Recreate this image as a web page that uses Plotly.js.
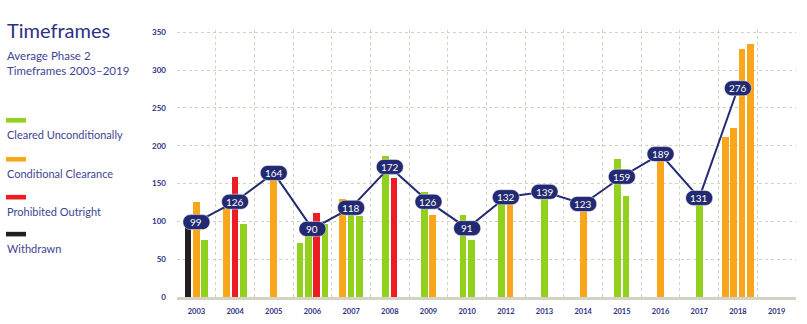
<!DOCTYPE html>
<html>
<head>
<meta charset="utf-8">
<script src="https://cdn.plot.ly/plotly-3.0.1.min.js"></script>
<style>html,body{margin:0;padding:0;background:#fff;}#chart{width:807px;height:324px;}</style>
</head>
<body>
<div id="chart"></div>
<script>
// ---- data ----
const years = ['2003','2004','2005','2006','2007','2008','2009','2010','2012','2013','2014','2015','2016','2017','2018','2019'];
const averageDays = [99,126,164,90,118,172,126,91,132,139,123,159,189,131,276,null];

const outcomes = ['Cleared Unconditionally','Conditional Clearance','Prohibited Outright','Withdrawn'];

const barYear = ['2003','2003','2003','2004','2004','2004','2005','2006','2006','2006','2006','2007','2007','2007','2008','2008','2009','2009','2010','2010','2012','2012','2013','2014','2015','2015','2016','2017','2018','2018','2018','2018'];
const barOutcome = ['Withdrawn','Conditional Clearance','Cleared Unconditionally',
  'Conditional Clearance','Prohibited Outright','Cleared Unconditionally',
  'Conditional Clearance',
  'Cleared Unconditionally','Cleared Unconditionally','Prohibited Outright','Cleared Unconditionally',
  'Conditional Clearance','Cleared Unconditionally','Cleared Unconditionally',
  'Cleared Unconditionally','Prohibited Outright',
  'Cleared Unconditionally','Conditional Clearance',
  'Cleared Unconditionally','Cleared Unconditionally',
  'Cleared Unconditionally','Conditional Clearance',
  'Cleared Unconditionally',
  'Conditional Clearance',
  'Cleared Unconditionally','Cleared Unconditionally',
  'Conditional Clearance',
  'Cleared Unconditionally',
  'Conditional Clearance','Conditional Clearance','Conditional Clearance','Conditional Clearance'];
const barDays = [97,125,75, 122,158,97, 164, 72,82,111,97, 130,117,107, 187,157, 139,109, 108,75, 133,131, 139, 123, 183,133, 189, 131, 212,224,328,334];

// ---- styles ----
const colors = {
  'Cleared Unconditionally':'#92d01e',
  'Conditional Clearance':'#f9a61c',
  'Prohibited Outright':'#ed1c24',
  'Withdrawn':'#231f20'
};
const navy = '#232a72';
const textNavy = '#2d3184';
const textBlue = '#3e4494';
const gridCol = '#d3d1c0';
const BAR_W = 0.173, BAR_PITCH = 0.215;

// bar positions: each year's bars are centred on its category
const counts = {}, seen = {};
barYear.forEach(y => counts[y] = (counts[y]||0)+1);
const barX = barYear.map(y => {
  const i = seen[y] || 0; seen[y] = i+1;
  return years.indexOf(y) + (i - (counts[y]-1)/2) * BAR_PITCH;
});

const traces = outcomes.map(o => {
  const xs=[], ys=[];
  barOutcome.forEach((b,k)=>{ if(b===o){ xs.push(barX[k]); ys.push(barDays[k]); } });
  return {type:'bar', x:xs, y:ys, width:BAR_W, name:o, marker:{color:colors[o], line:{width:0}}, showlegend:false, hoverinfo:'skip'};
});

const lineX = [], lineY = [];
averageDays.forEach((v,i)=>{ if(v!==null){ lineX.push(i); lineY.push(v); } });
traces.push({type:'scatter', mode:'lines', x:lineX, y:lineY, line:{color:navy, width:2}, showlegend:false, hoverinfo:'skip'});

// ---- pills ----
const pill = 'M -6,-7.5 L 6,-7.5 C 10.14,-7.5 13.5,-4.14 13.5,0 C 13.5,4.14 10.14,7.5 6,7.5 L -6,7.5 C -10.14,7.5 -13.5,4.14 -13.5,0 C -13.5,-4.14 -10.14,-7.5 -6,-7.5 Z';
const shapes = [], annotations = [];
lineX.forEach((x,k)=>{
  shapes.push({type:'path', layer:'above', xref:'x', yref:'y', xsizemode:'pixel', ysizemode:'pixel',
    xanchor:x, yanchor:lineY[k], path:pill, fillcolor:navy, line:{color:'rgba(255,255,255,0.6)', width:0.8}});
  annotations.push({xref:'x', yref:'y', x:x, y:lineY[k], text:String(lineY[k]), showarrow:false,
    font:{family:'Lato', size:10, color:'#ffffff'}, xanchor:'center', yanchor:'middle'});
});

// ---- left panel (title + legend) ----
const L = 177, T = 30, PW = 807-177-11, PH = 324-30-26.5;
const px = v => (v - L)/PW;
const py = v => (T + PH - v)/PH;

annotations.push({xref:'paper', yref:'paper', x:px(5), y:py(29.5), xanchor:'left', yanchor:'middle', showarrow:false,
  text:'Timeframes', font:{family:'Lato', size:20, color:textNavy}});
annotations.push({xref:'paper', yref:'paper', x:px(5), y:py(63), xanchor:'left', yanchor:'middle', showarrow:false, align:'left',
  text:'Average Phase 2<br>Timeframes 2003–2019', font:{family:'Lato', size:11.5, color:textBlue}});

const legendRows = [120.5, 159.5, 197.5, 234.5];
outcomes.forEach((o,i)=>{
  const sy = legendRows[i];
  shapes.push({type:'rect', xref:'paper', yref:'paper', x0:px(6), x1:px(26), y0:py(sy-2.3), y1:py(sy+2.3),
    fillcolor:colors[o], line:{width:0}});
  annotations.push({xref:'paper', yref:'paper', x:px(5), y:py(sy+14.5), xanchor:'left', yanchor:'middle', showarrow:false,
    text:o, font:{family:'Lato', size:11, color:textBlue}});
});

const minorVals = [];
for (let i=0;i<=years.length;i++) minorVals.push(i-0.5);

const layout = {
  width:807, height:324,
  margin:{l:L, r:11, t:T, b:26.5, pad:0},
  paper_bgcolor:'#ffffff', plot_bgcolor:'#ffffff',
  bargap:0,
  xaxis:{type:'linear', range:[-0.502, years.length-0.498], tickmode:'array',
    tickvals:years.map((y,i)=>i), ticktext:years, showgrid:false, zeroline:false,
    ticks:'', ticklabelstandoff:5,
    tickfont:{family:'Lato', size:7.5, color:textNavy, weight:'bold'},
    showline:true, linecolor:'#d4d2c2', linewidth:3,
    minor:{tickmode:'array', tickvals:minorVals, showgrid:true, gridcolor:gridCol, griddash:'dot', gridwidth:1, ticks:''}},
  yaxis:{range:[0,353], tickmode:'array', tickvals:[0,50,100,150,200,250,300,350],
    showgrid:true, gridcolor:gridCol, griddash:'dot', gridwidth:1, zeroline:false, showline:false,
    ticks:'', ticklabelstandoff:10,
    tickfont:{family:'Lato', size:8, color:textNavy, weight:'bold'}},
  shapes:shapes,
  annotations:annotations,
  showlegend:false
};

Plotly.newPlot('chart', traces, layout, {staticPlot:true, displayModeBar:false});
</script>
</body>
</html>
